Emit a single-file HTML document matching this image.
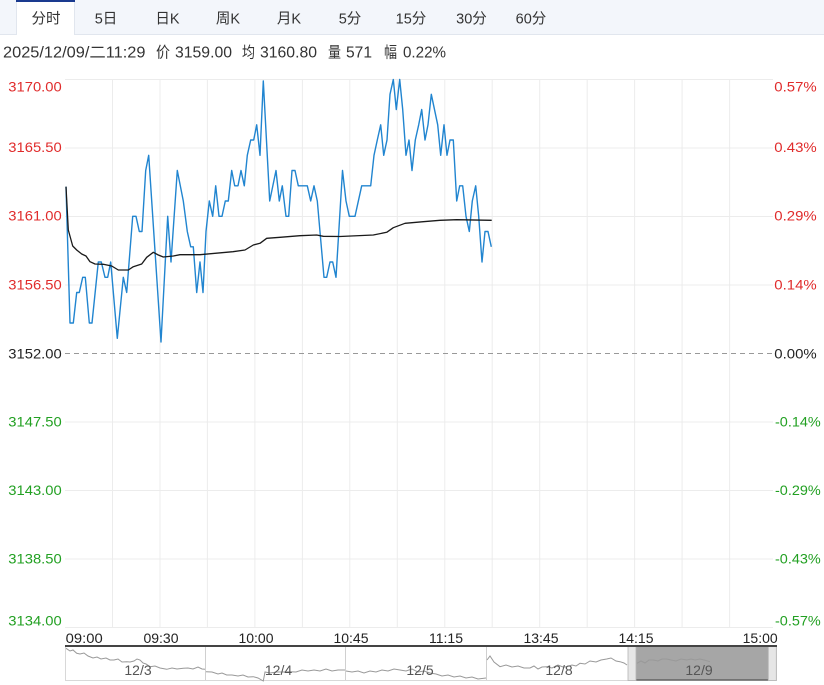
<!DOCTYPE html>
<html><head><meta charset="utf-8">
<style>
html,body{margin:0;padding:0;background:#fff;}
svg{display:block;}
text{font-family:"Liberation Sans","Noto Sans CJK SC",sans-serif;}
</style></head>
<body>
<svg width="824" height="685" viewBox="0 0 824 685" xmlns="http://www.w3.org/2000/svg">
<!-- tab bar -->
<rect x="0" y="0" width="824" height="34" fill="#f3f6fb"/>
<line x1="0" y1="34.5" x2="824" y2="34.5" stroke="#e1e6ee" stroke-width="1"/>
<rect x="16" y="0" width="59" height="35" fill="#ffffff"/>
<line x1="16.5" y1="0" x2="16.5" y2="35" stroke="#e1e6ee"/>
<line x1="74.5" y1="0" x2="74.5" y2="35" stroke="#e1e6ee"/>
<rect x="16" y="0" width="59" height="2" fill="#1a3a8f"/>
<g font-size="14.5" fill="#333" text-anchor="middle">
<text x="46" y="23.5">分时</text>
<text x="106" y="23.5">5日</text>
<text x="167.5" y="23.5">日K</text>
<text x="228" y="23.5">周K</text>
<text x="289" y="23.5">月K</text>
<text x="350" y="23.5">5分</text>
<text x="411" y="23.5">15分</text>
<text x="471.5" y="23.5">30分</text>
<text x="531" y="23.5">60分</text>
</g>
<!-- header info -->
<g font-size="15.5" fill="#333">
<text x="3" y="57.5" textLength="142.5" lengthAdjust="spacingAndGlyphs">2025/12/09/二11:29</text>
<text x="156" y="57.5" textLength="14" lengthAdjust="spacingAndGlyphs">价</text>
<text x="175" y="57.5" textLength="57" lengthAdjust="spacingAndGlyphs">3159.00</text>
<text x="242" y="57.5" textLength="13" lengthAdjust="spacingAndGlyphs">均</text>
<text x="260" y="57.5" textLength="57" lengthAdjust="spacingAndGlyphs">3160.80</text>
<text x="328" y="57.5" textLength="13" lengthAdjust="spacingAndGlyphs">量</text>
<text x="346" y="57.5" textLength="26" lengthAdjust="spacingAndGlyphs">571</text>
<text x="384" y="57.5" textLength="13" lengthAdjust="spacingAndGlyphs">幅</text>
<text x="403" y="57.5" textLength="43" lengthAdjust="spacingAndGlyphs">0.22%</text>
</g>
<!-- grid -->
<g stroke="#ececec" stroke-width="1">
<line x1="65" y1="79.5" x2="773" y2="79.5"/>
<line x1="65" y1="148" x2="773" y2="148"/>
<line x1="65" y1="216.5" x2="773" y2="216.5"/>
<line x1="65" y1="285" x2="773" y2="285"/>
<line x1="65" y1="422" x2="773" y2="422"/>
<line x1="65" y1="490.5" x2="773" y2="490.5"/>
<line x1="65" y1="559" x2="773" y2="559"/>
<line x1="65" y1="627.5" x2="773" y2="627.5"/>
<line x1="112.5" y1="79" x2="112.5" y2="628"/>
<line x1="160" y1="79" x2="160" y2="628"/>
<line x1="207.4" y1="79" x2="207.4" y2="628"/>
<line x1="254.9" y1="79" x2="254.9" y2="628"/>
<line x1="302.4" y1="79" x2="302.4" y2="628"/>
<line x1="349.8" y1="79" x2="349.8" y2="628"/>
<line x1="397.3" y1="79" x2="397.3" y2="628"/>
<line x1="444.8" y1="79" x2="444.8" y2="628"/>
<line x1="492.2" y1="79" x2="492.2" y2="628"/>
<line x1="539.7" y1="79" x2="539.7" y2="628"/>
<line x1="587.2" y1="79" x2="587.2" y2="628"/>
<line x1="634.6" y1="79" x2="634.6" y2="628"/>
<line x1="682.1" y1="79" x2="682.1" y2="628"/>
<line x1="729.6" y1="79" x2="729.6" y2="628"/>
</g>
<line x1="65" y1="353.5" x2="772" y2="353.5" stroke="#999" stroke-width="1" stroke-dasharray="5,4"/>
<!-- left labels -->
<g font-size="14" text-anchor="end">
<text x="61.7" y="91.7" fill="#e02b2b" textLength="53.4" lengthAdjust="spacingAndGlyphs">3170.00</text>
<text x="61.7" y="152.2" fill="#e02b2b" textLength="53.4" lengthAdjust="spacingAndGlyphs">3165.50</text>
<text x="61.7" y="220.7" fill="#e02b2b" textLength="53.4" lengthAdjust="spacingAndGlyphs">3161.00</text>
<text x="61.7" y="289.7" fill="#e02b2b" textLength="53.4" lengthAdjust="spacingAndGlyphs">3156.50</text>
<text x="61.7" y="358.7" fill="#222" textLength="53.4" lengthAdjust="spacingAndGlyphs">3152.00</text>
<text x="61.7" y="426.7" fill="#22a022" textLength="53.4" lengthAdjust="spacingAndGlyphs">3147.50</text>
<text x="61.7" y="495.2" fill="#22a022" textLength="53.4" lengthAdjust="spacingAndGlyphs">3143.00</text>
<text x="61.7" y="563.7" fill="#22a022" textLength="53.4" lengthAdjust="spacingAndGlyphs">3138.50</text>
<text x="61.7" y="625.7" fill="#22a022" textLength="53.4" lengthAdjust="spacingAndGlyphs">3134.00</text>
</g>
<!-- right labels -->
<g font-size="14">
<text x="774.3" y="91.7" fill="#e02b2b" textLength="42.4" lengthAdjust="spacingAndGlyphs">0.57%</text>
<text x="774.3" y="152.2" fill="#e02b2b" textLength="42.4" lengthAdjust="spacingAndGlyphs">0.43%</text>
<text x="774.3" y="220.7" fill="#e02b2b" textLength="42.4" lengthAdjust="spacingAndGlyphs">0.29%</text>
<text x="774.3" y="289.7" fill="#e02b2b" textLength="42.4" lengthAdjust="spacingAndGlyphs">0.14%</text>
<text x="774.3" y="358.7" fill="#222" textLength="42.4" lengthAdjust="spacingAndGlyphs">0.00%</text>
<text x="775" y="426.7" fill="#22a022" textLength="45.7" lengthAdjust="spacingAndGlyphs">-0.14%</text>
<text x="775" y="495.2" fill="#22a022" textLength="45.7" lengthAdjust="spacingAndGlyphs">-0.29%</text>
<text x="775" y="563.7" fill="#22a022" textLength="45.7" lengthAdjust="spacingAndGlyphs">-0.43%</text>
<text x="775" y="625.7" fill="#22a022" textLength="45.7" lengthAdjust="spacingAndGlyphs">-0.57%</text>
</g>
<!-- price line -->
<polyline fill="none" stroke="#2185d0" stroke-width="1.4" stroke-linejoin="round" points="66,186.7 70,323 73.3,323 76.7,292.5 79.3,292.5 82.7,277.3 85.3,277.3 89.3,323 92,323 98.3,262 101.3,262 105,277.3 107.7,277.3 110.7,262 117.3,338.3 123.3,277.3 126.7,292.5 132.7,216.3 136,216.3 139.3,231.5 142,231.5 145.7,170.5 148.7,155.3 161,342 167.7,216.3 171,262 177.3,170.5 183.3,201 187.3,231.5 190.7,246.8 193.3,246.8 196.7,292.5 200,262 203,292.5 206,231.5 209.3,201 212.7,216.3 215.7,185.8 219,216.3 222,216.3 225.3,201 228.3,201 231.7,170.5 234.7,185.8 238,185.8 241,170.5 244.3,185.8 247.3,155.3 250.7,140 253.7,140 256.7,124.8 260,155.3 263.3,81 269.7,201 276,170.5 279.3,201 282.3,185.8 286,216.3 288.7,216.3 292,170.5 295,170.5 298.3,185.8 307.3,185.8 310.7,201 314,185.8 317.3,201 324,277.3 326.7,277.3 330,262 332.7,262 336,277.3 342.5,170.5 346,201 349.3,216.3 355,216.3 361.7,185.8 370.7,185.8 374,155.3 377.3,140 380.7,124.8 383.7,155.3 387,140 390,94.3 393.3,79.5 396.3,109.5 399.7,79.5 402.7,109.5 406,155.3 409,140 412,170.5 415.3,140 418.7,124.8 421.7,109.5 425,140 428,124.8 431.3,94.3 437.7,124.8 440.7,155.3 444,124.8 447,155.3 450,140 453.3,140 456.7,201 459.7,185.8 462.7,185.8 466,216.3 469.3,231.5 472.3,201 475.7,185.8 478.7,216.3 482,262 485,231.5 488,231.5 491.3,246.8"/>
<!-- average line -->
<polyline fill="none" stroke="#1a1a1a" stroke-width="1.3" stroke-linejoin="round" points="66,186.7 68.3,230 72.7,246 76.7,250 81.7,254 86,256 90,261.7 95,264 103.3,264.3 111.7,266 118.3,270 128.3,270 133.3,266.7 141.7,264 146.7,257.3 153.3,252.3 158.3,255 163.3,257 173.3,256 180,254.7 200,254.7 233,251.7 245,250 253.3,245 260,243.3 266.7,238.3 280,237.3 300,235.7 316.7,235 323.3,236.3 340,236.5 373.3,235 386.7,232.3 393.3,227.7 405,223.3 423.3,221.7 440,220.3 456.7,219.7 491.7,220.3"/>
<!-- time axis labels -->
<g font-size="14" fill="#222">
<text x="65.7" y="643" textLength="37" lengthAdjust="spacingAndGlyphs">09:00</text>
<text x="161" y="643" text-anchor="middle">09:30</text>
<text x="256" y="643" text-anchor="middle">10:00</text>
<text x="351" y="643" text-anchor="middle">10:45</text>
<text x="446" y="643" text-anchor="middle">11:15</text>
<text x="541" y="643" text-anchor="middle">13:45</text>
<text x="636" y="643" text-anchor="middle">14:15</text>
<text x="777.7" y="643" text-anchor="end">15:00</text>
</g>
<!-- navigator -->
<rect x="65.5" y="646" width="711" height="34.5" fill="#fff" stroke="#d8d8d8" stroke-width="1"/>
<rect x="636" y="646" width="132.3" height="34" fill="#a6a6a6"/>
<line x1="636" y1="680" x2="768.3" y2="680" stroke="#555" stroke-width="1.2"/>
<g stroke="#d0d0d0" stroke-width="1">
<line x1="205.5" y1="647" x2="205.5" y2="680"/>
<line x1="345.5" y1="647" x2="345.5" y2="680"/>
<line x1="486.5" y1="647" x2="486.5" y2="680"/>
</g>
<g fill="none" stroke="#999" stroke-width="1">
<polyline points="66,648.3 70,651 73,650 76.7,653.3 80,654 84,653 88,656 93,658 97,657 101,659 106,658 110,660 114,660 118,659 122,662 126.7,661.7 130,662 134,661 137,659 140,660 143,663 146,664 150,666.7 155,666 160,668 166.7,669.3 172,668 177,669 183.3,668.3 188,668 193,669 198,667 202,669 205,669.3"/>
<polyline points="206,671.7 212,672 218,674 222,673 226.7,675 232,675 238,676 243,675 248,677 253.3,676.7 258,678 263.3,681 265,672 270,673 276.7,672 283,672 290,671.7 296,672 302,670 308,671 314,670 320,671 326,669 332,671 338,670 345,670"/>
<polyline points="346,671 352,672 358,671 364,673 370,671 376,672 382,670 388,671 394,669 400,670 406,671 412,669 418,672 424,671 430,673 436,674 442,676 448,675 454,677 460,676 466,678 472,677 478,679 486,678"/>
<polyline points="487,660 490,656 494,662 500,666.7 506,665 512,667 518,666 524,668 530,668 534,666 538,669 542,667 546.7,666.7 552,668 558,665 563,667 566.7,666.7 572,665 576,666 580,663.3 585,664 590,661 596,662 601,660 606.7,659 611,658 616,661 620,661.7 624,663 627,665"/>
<polyline points="637,663.3 641,661 645,663 649,660 653.3,660 658,661 662,659 666.7,659 671,660 676,661 681,659 686.7,660 691,659 695,660 700,659 704,660 710,661.7"/>
</g>
<rect x="628" y="646" width="8" height="34.5" fill="#e6e6e6" stroke="#b5b5b5" stroke-width="0.8"/>
<rect x="768.3" y="646" width="8" height="34.5" fill="#e6e6e6" stroke="#b5b5b5" stroke-width="0.8"/>
<line x1="65" y1="646" x2="777" y2="646" stroke="#444" stroke-width="2"/>
<g font-size="14" fill="#555" text-anchor="middle">
<text x="138" y="675">12/3</text>
<text x="278.5" y="675">12/4</text>
<text x="420" y="675">12/5</text>
<text x="559" y="675">12/8</text>
<text x="699" y="675">12/9</text>
</g>
</svg>
</body></html>
